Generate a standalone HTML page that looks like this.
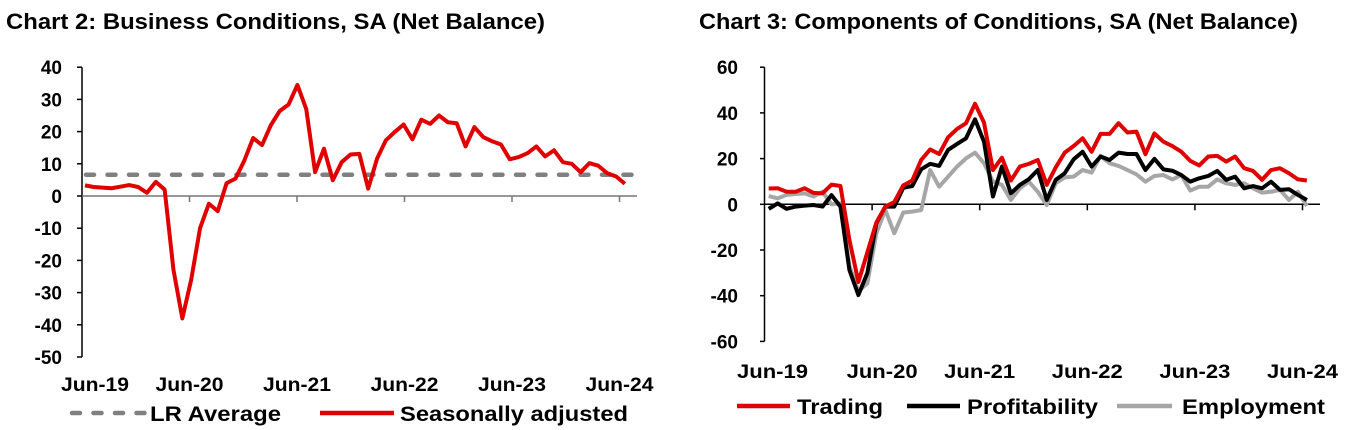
<!DOCTYPE html>
<html><head><meta charset="utf-8"><style>
html,body{margin:0;padding:0;background:#fff;}
svg{display:block;font-family:"Liberation Sans",Arial,sans-serif;}
.t{font-weight:bold;font-size:22px;fill:#000;}
.tk{font-weight:bold;font-size:19px;fill:#000;}
.lg{font-weight:bold;font-size:21px;fill:#000;}
</style></head><body>
<svg id="c" width="1358" height="430">
<text class="t" x="6" y="29" textLength="539" lengthAdjust="spacingAndGlyphs">Chart 2: Business Conditions, SA (Net Balance)</text>
<text class="t" x="699" y="29" textLength="599" lengthAdjust="spacingAndGlyphs">Chart 3: Components of Conditions, SA (Net Balance)</text>
<g id="g2"></g>
<g id="g3"></g>
<g>
<line x1="72" y1="413" x2="145" y2="413" stroke="#808080" stroke-width="4.5" stroke-dasharray="8,13.5" stroke-linecap="round"/>
<text class="lg" x="150" y="421" textLength="131" lengthAdjust="spacingAndGlyphs">LR Average</text>
<line x1="320" y1="413" x2="394" y2="413" stroke="#e00000" stroke-width="4.5"/>
<text class="lg" x="400" y="421" textLength="228" lengthAdjust="spacingAndGlyphs">Seasonally adjusted</text>
</g>
<g>
<line x1="737" y1="406" x2="790" y2="406" stroke="#e00000" stroke-width="4.5"/>
<text class="lg" x="797" y="414" textLength="86" lengthAdjust="spacingAndGlyphs">Trading</text>
<line x1="907" y1="406" x2="960" y2="406" stroke="#000" stroke-width="4.5"/>
<text class="lg" x="967" y="414" textLength="131" lengthAdjust="spacingAndGlyphs">Profitability</text>
<line x1="1117" y1="406" x2="1172" y2="406" stroke="#a6a6a6" stroke-width="4.5"/>
<text class="lg" x="1182" y="414" textLength="143" lengthAdjust="spacingAndGlyphs">Employment</text>
</g>
</svg>
<script>
const xLabels = ["Jun-19","Jun-20","Jun-21","Jun-22","Jun-23","Jun-24"];
const y2Ticks = [40,30,20,10,0,-10,-20,-30,-40,-50];
const y3Ticks = [60,40,20,0,-20,-40,-60];
const lrAverage = 6.6;
const seasonallyAdjusted = [3.3,2.8,2.6,2.4,2.9,3.4,2.8,1,4.4,2,-23,-38,-26,-10,-2.4,-4.7,4,5.4,11,18,15.8,22,26.4,28.4,34.5,27,7.4,14.7,4.9,10.5,12.9,13.1,2.3,11.6,17.3,19.9,22.2,17.6,23.7,22.4,25,22.9,22.6,15.4,21.4,18.3,17,16,11.4,12.1,13.3,15.4,12.3,14.2,10.5,10,7.4,10.2,9.4,7.1,6.1,3.8];
const trading = [6.9,7,5.5,5.5,7,5,4.8,8.6,8,-15.6,-34,-21,-8,-1,1,8.3,10.4,19.4,24,22,29.3,33,35.5,44,35.8,15,20.4,10.4,16.5,17.7,19.4,8.5,16.2,22.6,25.5,28.9,23,30.8,30.8,35.5,31.4,31.8,21.9,31,27.4,25.5,23,19,17,20.9,21.2,18.7,20.9,15.8,14.6,10.7,15,15.8,13.6,10.9,10.4];
const profitability = [-2,0.4,-2,-1,-0.6,-0.3,-1,4,-1,-28.8,-39.7,-30,-8.3,-1,-1,7.2,8,15.3,17.7,16.8,23.8,26.4,28.9,37.2,27.4,3.4,16.5,4.8,8.5,11,15,1.9,10.7,13.6,19.7,23,16.5,20.9,19.4,22.6,22,22,15,19.9,15.3,14.7,12.8,9.9,11.4,12.4,14.6,10.7,12.1,7,8,7,9.9,6.3,6.6,4.1,1.9];
const employment = [3.6,2.6,4.1,4.5,4.8,3.4,5.5,0,0.4,-27,-38,-34.6,-12.7,-2.5,-12.7,-3.6,-3.2,-2.5,15,7.7,12.1,16.5,20.1,22.6,18,9.9,8.5,1.9,7,9.9,5.5,-0.3,9.2,11.8,12.1,15,13.9,21.2,18,16.8,15,13.1,9.9,12.4,12.8,10.9,12.8,6,7.7,7.7,10.9,9.2,8.5,9.2,7,5.1,5.5,6.3,1.9,5.5,-0.7];

const NS="http://www.w3.org/2000/svg";
function mk(parent,tag,attrs){const e=document.createElementNS(NS,tag);for(const k in attrs)e.setAttribute(k,attrs[k]);parent.appendChild(e);return e;}

// Chart 2
const g2=document.getElementById('g2');
const x2=m=>85+m*8.85;
const y2=v=>196-v*3.22;
const tickX2=i=>82+i*107.5;
let ax=mk(g2,'line',{x1:82,y1:y2(40),x2:82,y2:y2(-50),stroke:'#000','stroke-width':1.5});


y2Ticks.forEach(v=>{
  const l=mk(g2,'line',{x1:77,y1:y2(v),x2:82,y2:y2(v),stroke:'#000','stroke-width':1.5});
  
  
  const t=mk(g2,'text',{x:62,y:y2(v)+7,'text-anchor':'end',class:'tk'});t.textContent=v;
  
  
});
let xa=mk(g2,'line',{x1:82,y1:y2(0),x2:637,y2:y2(0),stroke:'#777','stroke-width':1.5});


xLabels.forEach((s,i)=>{
  if(i>0){const l=mk(g2,'line',{x1:tickX2(i),y1:y2(0),x2:tickX2(i),y2:y2(0)+6,stroke:'#777','stroke-width':1.5});
  
  }
  const t=mk(g2,'text',{x:tickX2(i)+(i==0?13:0),y:391,'text-anchor':'middle',class:'tk',textLength:68,lengthAdjust:'spacingAndGlyphs'});t.textContent=s;
  
  
});
let lr=mk(g2,'line',{x1:86,y1:y2(lrAverage),x2:634,y2:y2(lrAverage),stroke:'#808080','stroke-width':4.5,'stroke-dasharray':'8,13.5','stroke-linecap':'round'});


let p=mk(g2,'polyline',{points:seasonallyAdjusted.map((v,i)=>x2(i)+','+y2(v)).join(' '),fill:'none',stroke:'#e00000','stroke-width':4,'stroke-linejoin':'round'});



// Chart 3
const g3=document.getElementById('g3');
const x3=m=>768.7+m*8.97;
const y3=v=>204.3-v*2.285;
const tickX3=i=>764.5+i*107.6;
ax=mk(g3,'line',{x1:764.5,y1:y3(60),x2:764.5,y2:y3(-60),stroke:'#000','stroke-width':1.5});


y3Ticks.forEach(v=>{
  const l=mk(g3,'line',{x1:760,y1:y3(v),x2:764.5,y2:y3(v),stroke:'#000','stroke-width':1.5});
  
  
  const t=mk(g3,'text',{x:738,y:y3(v)+7,'text-anchor':'end',class:'tk'});t.textContent=v;
  
  
});
xa=mk(g3,'line',{x1:764.5,y1:y3(0),x2:1320,y2:y3(0),stroke:'#000','stroke-width':1.5});


xLabels.forEach((s,i)=>{
  if(i>0){const l=mk(g3,'line',{x1:tickX3(i),y1:y3(0),x2:tickX3(i),y2:y3(0)+6,stroke:'#000','stroke-width':1.5});
  
  }
  const t=mk(g3,'text',{x:tickX3(i)+(i==0?8:(i==1?10:0)),y:378,'text-anchor':'middle',class:'tk',textLength:71,lengthAdjust:'spacingAndGlyphs'});t.textContent=s;
  
  
});
[[employment,'#a6a6a6','employment-line'],[profitability,'#000','profitability-line'],[trading,'#e00000','trading-line']].forEach(([d,c,n])=>{
  const pl=mk(g3,'polyline',{points:d.map((v,i)=>x3(i)+','+y3(v)).join(' '),fill:'none',stroke:c,'stroke-width':4,'stroke-linejoin':'round'});
  
  
});
</script>
</body></html>
